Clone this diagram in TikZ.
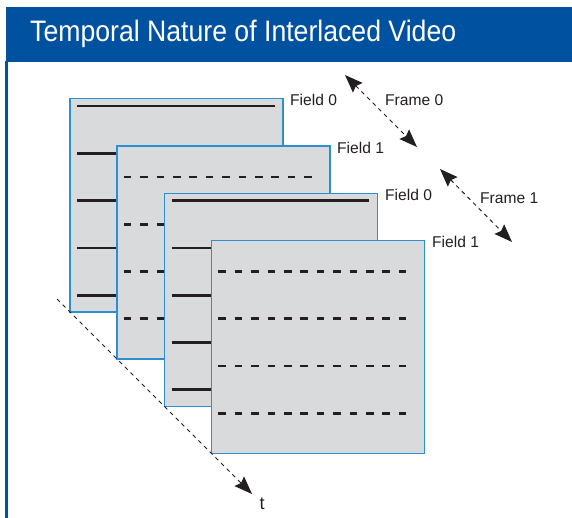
\documentclass[tikz,border=0pt]{standalone}
\usepackage{fontspec}
\setmainfont{Liberation Sans}
\newfontfamily\titlefont[FakeStretch=0.9]{Liberation Sans}
\usetikzlibrary{arrows.meta,calc}
\definecolor{hdrblue}{RGB}{0,82,160}
\definecolor{frameblue}{RGB}{43,143,208}
\definecolor{framegray}{RGB}{217,218,220}
\definecolor{ink}{RGB}{35,31,32}
\tikzset{
  framebox/.style={draw=frameblue, fill=framegray, line width=1.5pt, minimum width=213pt, minimum height=213pt, anchor=north west, inner sep=0pt},
  solidfield/.style={ink, line width=2.7pt},
  dashfield/.style={ink, line width=2.7pt, dash pattern=on 7.5pt off 8.9pt},
  dasharrow/.style={ink, line width=1pt, dash pattern=on 4pt off 4pt},
  bigtip/.style={arrows={-Stealth[length=18pt,width=13.5pt,inset=2.5pt]}},
  twotip/.style={arrows={Stealth[length=18pt,width=13.5pt,inset=2.5pt]-Stealth[length=18pt,width=13.5pt,inset=2.5pt]}},
  lbl/.style={anchor=base west, inner sep=0pt, font=\fontsize{15.6}{18}\selectfont, text=ink}
}
\begin{document}
\begin{tikzpicture}[x=1pt,y=-1pt]
\useasboundingbox (0,0) rectangle (572,518);
% header
\fill[hdrblue] (6,7) rectangle (572,62);
\draw[hdrblue, line width=2.6pt] (6.3,61) -- (6.3,518);
\node[anchor=base west, inner sep=0pt, text=white, font=\titlefont\fontsize{29.6}{32}\selectfont] (title) at (30,42) {Temporal Nature of Interlaced Video};
% frame 1 (field 0)
\node[framebox] (f1) at (69,98) {};
\foreach \o in {8,55.3,102.6,149.9,197.2}
  \draw[solidfield] ($(f1.north west)+(8,\o)$) -- ($(f1.north east)+(-9,\o)$);
% frame 2 (field 1)
\node[framebox] (f2) at (116.3,145.3) {};
\foreach \o in {31.6,78.9,126.2,173.5}
  \draw[dashfield] ($(f2.north west)+(7.5,\o)$) -- ++(188,0);
% frame 3 (field 0)
\node[framebox] (f3) at (163.6,192.6) {};
\foreach \o in {8,55.3,102.6,149.9,197.2}
  \draw[solidfield] ($(f3.north west)+(8,\o)$) -- ($(f3.north east)+(-9,\o)$);
% frame 4 (field 1)
\node[framebox] (f4) at (210.9,239.9) {};
\foreach \o in {31.6,78.9,126.2,173.5}
  \draw[dashfield] ($(f4.north west)+(7.5,\o)$) -- ++(188,0);
% labels
\node[lbl] (l1) at (290,106) {Field 0};
\node[lbl] (l2) at (337,153.5) {Field 1};
\node[lbl] (l3) at (385,201) {Field 0};
\node[lbl] (l4) at (432,247.5) {Field 1};
\node[lbl] (fr0) at (385,106) {Frame 0};
\node[lbl] (fr1) at (480,203.3) {Frame 1};
% frame arrows
\coordinate (a0s) at (345,75);
\coordinate (a0e) at (417,147);
\coordinate (a1s) at (440,169);
\coordinate (a1e) at (512,242);
\draw[dasharrow, twotip] (a0s) -- (a0e);
\draw[dasharrow, twotip] (a1s) -- (a1e);
% time axis
\coordinate (ts) at (57,299);
\coordinate (te) at (252,494);
\draw[dasharrow, bigtip] (ts) -- (te);
\node[anchor=base, inner sep=0pt, font=\fontsize{18}{20}\selectfont, text=ink] (tl) at (262,509) {t};
\end{tikzpicture}
\end{document}
